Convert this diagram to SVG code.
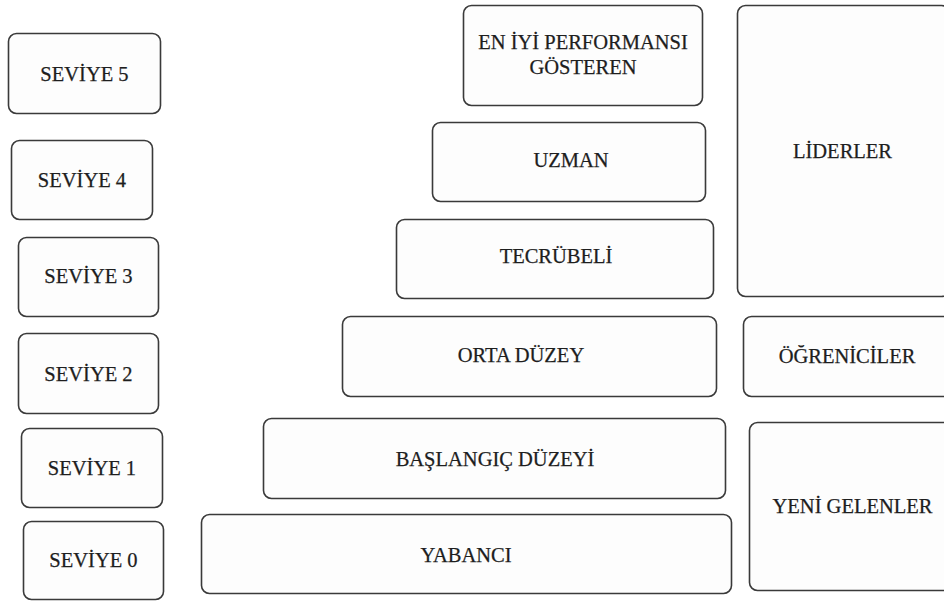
<svg xmlns="http://www.w3.org/2000/svg" width="944" height="601" viewBox="0 0 944 601">
<style>
.box{fill:#fdfdfd;stroke:#3a3a3a;stroke-width:1.6}
.t{font-family:"Liberation Serif","Times New Roman",serif;font-size:20.5px;fill:#1e1e1e;text-anchor:middle;stroke:#1e1e1e;stroke-width:0.25}
</style>
<rect width="944" height="601" fill="#ffffff"/>
<g id="seviye5"><rect class="box" x="8.5" y="33.5" width="152" height="80" rx="8"/><text class="t" x="84.5" y="81">SEVİYE 5</text></g>
<g id="seviye4"><rect class="box" x="11.5" y="140.5" width="141" height="79" rx="8"/><text class="t" x="82" y="187">SEVİYE 4</text></g>
<g id="seviye3"><rect class="box" x="18.5" y="237.5" width="140" height="79" rx="8"/><text class="t" x="88.5" y="283">SEVİYE 3</text></g>
<g id="seviye2"><rect class="box" x="18.5" y="333.5" width="140" height="80" rx="8"/><text class="t" x="88.5" y="381">SEVİYE 2</text></g>
<g id="seviye1"><rect class="box" x="21.5" y="428.5" width="141" height="79" rx="8"/><text class="t" x="92" y="475">SEVİYE 1</text></g>
<g id="seviye0"><rect class="box" x="23.5" y="521.5" width="140" height="78" rx="8"/><text class="t" x="93.5" y="567">SEVİYE 0</text></g>
<g id="en-iyi"><rect class="box" x="463.5" y="5.5" width="239" height="100" rx="8"/><text class="t" x="583" y="49">EN İYİ PERFORMANSI</text><text class="t" x="583" y="74">GÖSTEREN</text></g>
<g id="uzman"><rect class="box" x="432.5" y="122.5" width="273" height="79" rx="8"/><text class="t" x="571" y="167">UZMAN</text></g>
<g id="tecrubeli"><rect class="box" x="396.5" y="219.5" width="317" height="79" rx="8"/><text class="t" x="556" y="263">TECRÜBELİ</text></g>
<g id="orta"><rect class="box" x="342.5" y="316.5" width="374" height="80" rx="8"/><text class="t" x="521" y="362">ORTA DÜZEY</text></g>
<g id="baslangic"><rect class="box" x="263.5" y="418.5" width="462" height="80" rx="8"/><text class="t" x="495" y="466">BAŞLANGIÇ DÜZEYİ</text></g>
<g id="yabanci"><rect class="box" x="201.5" y="514.5" width="530" height="79" rx="8"/><text class="t" x="466" y="562">YABANCI</text></g>
<g id="liderler"><rect class="box" x="737.5" y="5.5" width="212" height="291" rx="8"/><text class="t" x="842.5" y="158">LİDERLER</text></g>
<g id="ogreniciler"><rect class="box" x="743.5" y="316.5" width="212" height="80" rx="8"/><text class="t" x="847" y="363">ÖĞRENİCİLER</text></g>
<g id="yeni"><rect class="box" x="749.5" y="422.5" width="212" height="168" rx="8"/><text class="t" x="852.5" y="513">YENİ GELENLER</text></g>
<g id="connectors"></g>
</svg>
